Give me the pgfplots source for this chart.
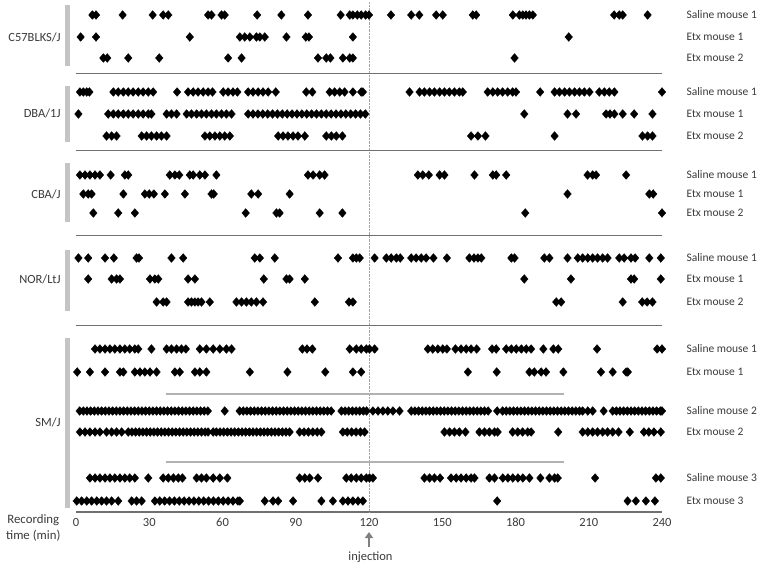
\documentclass[border=0pt]{standalone}
\usepackage{pgfplots}
\pgfplotsset{compat=1.18}
\usepackage{fontspec}
\setmainfont{Carlito}
\usetikzlibrary{arrows.meta}
\definecolor{txt}{HTML}{3A3A3A}
\definecolor{sep}{HTML}{707070}
\definecolor{barg}{HTML}{C4C4C4}
\begin{document}
\begin{tikzpicture}
\useasboundingbox (-76pt,-55pt) rectangle (686pt,512pt);
\begin{axis}[
  scale only axis, width=586pt, height=512pt,
  xmin=0, xmax=240, ymin=0, ymax=512,
  axis x line=bottom, axis y line=none,
  x axis line style={-, draw=sep, line width=1.1pt},
  xtick={0,30,...,240}, ytick=\empty,
  major tick length=0pt,
  tick label style={font=\fontsize{12.5}{12.5}\selectfont, text=txt},
  xticklabel style={yshift=-2.5pt},
  /pgf/number format/assume math mode=true,
  clip=false,
  dia/.style={only marks, mark=diamond*, mark size=4.4pt, black,
    mark options={xscale=1.15, line width=0.3pt}},
]
% injection marker
\draw[densely dotted, gray!70] (axis cs:120,0) -- (axis cs:120,510);
\draw[-{Triangle[width=8pt,length=6pt]}, gray, line width=2pt] (axis cs:120,-35) -- (axis cs:120,-20);
\node[font=\fontsize{12.5}{12.5}\selectfont, text=txt] at (axis cs:120.6,-45) {injection};
\node[font=\fontsize{12.8}{16}\selectfont, text=txt, align=center] at (axis cs:-17.5,-16) {Recording\\time (min)};

% separators
\draw[sep, line width=1pt] (axis cs:0,438) -- (axis cs:240,438);
\draw[sep, line width=1pt] (axis cs:0,361) -- (axis cs:240,361);
\draw[sep, line width=1pt] (axis cs:0,276) -- (axis cs:240,276);
\draw[sep, line width=1pt] (axis cs:0,186) -- (axis cs:240,186);
\draw[gray!60, line width=1.4pt] (axis cs:37,118) -- (axis cs:200,118);
\draw[gray!60, line width=1.4pt] (axis cs:37,50) -- (axis cs:200,50);

% group bars and labels
\draw[barg, line width=5pt] (axis cs:-3.3,507) -- (axis cs:-3.3,446);
\draw[barg, line width=5pt] (axis cs:-3.3,426) -- (axis cs:-3.3,370);
\draw[barg, line width=5pt] (axis cs:-3.3,349) -- (axis cs:-3.3,290);
\draw[barg, line width=5pt] (axis cs:-3.3,262) -- (axis cs:-3.3,201);
\draw[barg, line width=5pt] (axis cs:-3.3,174) -- (axis cs:-3.3,4);
\begin{scope}[every node/.style={anchor=east, font=\fontsize{12.5}{12.5}\selectfont, text=txt}]
\node at (axis cs:-4.9,475) {C57BLKS/J};
\node at (axis cs:-4.9,399) {DBA/1J};
\node at (axis cs:-4.9,318) {CBA/J};
\node at (axis cs:-4.9,233) {NOR/LtJ};
\node at (axis cs:-4.9,90) {SM/J};
\end{scope}
\begin{scope}[every node/.style={anchor=west, font=\fontsize{11.5}{12}\selectfont, text=txt}]
\node at (axis cs:248.6,497) {Saline mouse 1};
\node at (axis cs:248.6,475) {Etx mouse 1};
\node at (axis cs:248.6,454) {Etx mouse 2};
\node at (axis cs:248.6,420) {Saline mouse 1};
\node at (axis cs:248.6,398) {Etx mouse 1};
\node at (axis cs:248.6,376) {Etx mouse 2};
\node at (axis cs:248.6,337) {Saline mouse 1};
\node at (axis cs:248.6,318) {Etx mouse 1};
\node at (axis cs:248.6,299) {Etx mouse 2};
\node at (axis cs:248.6,254) {Saline mouse 1};
\node at (axis cs:248.6,233) {Etx mouse 1};
\node at (axis cs:248.6,210) {Etx mouse 2};
\node at (axis cs:248.6,163) {Saline mouse 1};
\node at (axis cs:248.6,140) {Etx mouse 1};
\node at (axis cs:248.6,101) {Saline mouse 2};
\node at (axis cs:248.6,80) {Etx mouse 2};
\node at (axis cs:248.6,34) {Saline mouse 3};
\node at (axis cs:248.6,11) {Etx mouse 3};
\end{scope}

% C57BLKS/J
\addplot[dia] coordinates {(6.7,497)(8.2,497)(19.1,497)(31.4,497)(35.7,497)(37.8,497)(54.1,497)(55.5,497)(59.6,497)(60.9,497)(74.2,497)(84.1,497)(95.0,497)(108.4,497)(112.1,497)(113.4,497)(115.2,497)(116.8,497)(118.6,497)(120.0,497)(129.0,497)(137.3,497)(140.6,497)(147.5,497)(150.2,497)(162.5,497)(163.9,497)(178.9,497)(181.6,497)(183.0,497)(184.3,497)(185.7,497)(187.1,497)(220.4,497)(222.5,497)(223.9,497)(234.1,497)};
\addplot[dia] coordinates {(1.9,475)(8.2,475)(46.6,475)(67.1,475)(69.1,475)(71.2,475)(73.9,475)(75.3,475)(77.3,475)(86.2,475)(94.1,475)(95.4,475)(113.4,475)(201.8,475)};
\addplot[dia] coordinates {(11.2,454)(12.8,454)(21.4,454)(34.1,454)(62.3,454)(67.8,454)(99.1,454)(102.5,454)(104.2,454)(109.3,454)(112.1,454)(113.4,454)(179.6,454)};

% DBA/1J
\addplot[dia] coordinates {(1.6,420)(3.0,420)(4.4,420)(5.5,420)(15.3,420)(17.3,420)(19.4,420)(21.4,420)(23.4,420)(25.5,420)(27.5,420)(29.6,420)(31.6,420)(41.4,420)(45.9,420)(48.0,420)(50.0,420)(52.1,420)(54.1,420)(55.9,420)(60.3,420)(62.3,420)(64.3,420)(66.1,420)(70.5,420)(72.5,420)(74.6,420)(76.6,420)(78.7,420)(81.8,420)(94.3,420)(96.8,420)(103.9,420)(105.9,420)(108.0,420)(110.0,420)(113.4,420)(116.8,420)(117.5,420)(136.6,420)(140.7,420)(142.7,420)(144.8,420)(146.8,420)(148.9,420)(150.9,420)(152.9,420)(155.0,420)(157.0,420)(158.4,420)(168.6,420)(170.7,420)(172.7,420)(174.7,420)(176.8,420)(178.8,420)(180.2,420)(190.1,420)(196.0,420)(198.0,420)(200.1,420)(202.1,420)(204.2,420)(206.2,420)(208.2,420)(210.3,420)(214.3,420)(216.4,420)(218.4,420)(220.5,420)(240,420)};
\addplot[dia] coordinates {(1.0,398)(13.2,398)(15.3,398)(17.3,398)(19.4,398)(21.4,398)(23.4,398)(25.5,398)(27.5,398)(29.6,398)(30.9,398)(37.1,398)(39.1,398)(41.2,398)(45.3,398)(47.3,398)(49.4,398)(51.4,398)(53.4,398)(55.5,398)(57.5,398)(59.6,398)(61.6,398)(63.7,398)(70.5,398)(72.5,398)(74.5,398)(76.5,398)(78.5,398)(80.5,398)(82.5,398)(84.5,398)(86.5,398)(88.5,398)(90.5,398)(92.5,398)(94.5,398)(96.5,398)(98.5,398)(100.5,398)(102.5,398)(104.5,398)(106.5,398)(108.5,398)(110.5,398)(112.5,398)(114.5,398)(116.5,398)(118.5,398)(183.6,398)(201.3,398)(204.8,398)(217.1,398)(218.7,398)(220.5,398)(223.9,398)(228.6,398)(236.1,398)};
\addplot[dia] coordinates {(12.5,376)(14.6,376)(16.6,376)(26.9,376)(28.9,376)(30.9,376)(33.0,376)(35.0,376)(37.1,376)(52.8,376)(54.8,376)(56.9,376)(58.9,376)(60.9,376)(63.0,376)(82.8,376)(84.8,376)(86.8,376)(88.9,376)(90.9,376)(93.7,376)(102.5,376)(104.6,376)(106.6,376)(109.1,376)(161.8,376)(164.6,376)(167.7,376)(196.0,376)(232.0,376)(234.1,376)(236.1,376)};

% CBA/J
\addplot[dia] coordinates {(1.6,337)(3.7,337)(5.7,337)(7.8,337)(9.8,337)(14.2,337)(20.0,337)(21.4,337)(38.4,337)(40.5,337)(42.3,337)(46.6,337)(48.0,337)(50.7,337)(52.8,337)(57.5,337)(95.0,337)(97.1,337)(99.8,337)(101.8,337)(140.0,337)(142.0,337)(144.5,337)(148.9,337)(150.9,337)(163.2,337)(170.7,337)(172.1,337)(176.2,337)(209.5,337)(211.6,337)(213.0,337)(225.3,337)};
\addplot[dia] coordinates {(3.0,318)(5.0,318)(6.4,318)(19.4,318)(28.2,318)(30.0,318)(31.9,318)(36.4,318)(44.6,318)(55.5,318)(56.4,318)(71.8,318)(74.6,318)(87.5,318)(201.3,318)(234.8,318)(236.4,318)};
\addplot[dia] coordinates {(7.1,299)(17.3,299)(24.1,299)(69.5,299)(82.1,299)(83.4,299)(99.8,299)(109.1,299)(184.0,299)(240,299)};

% NOR/LtJ
\addplot[dia] coordinates {(1.0,254)(5.0,254)(11.9,254)(15.5,254)(24.8,254)(25.8,254)(39.1,254)(43.9,254)(73.2,254)(75.3,254)(81.4,254)(107.3,254)(113.4,254)(114.8,254)(116.2,254)(122.3,254)(127.1,254)(129.1,254)(131.2,254)(132.8,254)(137.3,254)(139.3,254)(141.4,254)(143.4,254)(146.4,254)(151.9,254)(161.1,254)(163.0,254)(164.6,254)(166.0,254)(178.3,254)(179.6,254)(191.8,254)(193.9,254)(201.3,254)(205.5,254)(207.5,254)(209.6,254)(211.6,254)(213.6,254)(215.7,254)(217.7,254)(222.5,254)(224.5,254)(227.3,254)(229.0,254)(234.8,254)(239.5,254)};
\addplot[dia] coordinates {(5.0,233)(14.6,233)(16.6,233)(18.0,233)(30.3,233)(32.3,233)(33.7,233)(45.9,233)(48.7,233)(76.9,233)(86.2,233)(87.5,233)(93.7,233)(183.6,233)(202.7,233)(227.3,233)(228.6,233)(239.5,233)};
\addplot[dia] coordinates {(33.0,210)(35.7,210)(37.1,210)(45.9,210)(47.3,210)(48.7,210)(50.0,210)(51.4,210)(54.8,210)(65.7,210)(67.8,210)(69.8,210)(71.8,210)(73.9,210)(76.6,210)(97.8,210)(111.8,210)(113.4,210)(196.7,210)(198.7,210)(223.9,210)(231.9,210)(233.9,210)(236.1,210)};

% SM/J
\addplot[dia] coordinates {(7.8,163)(9.8,163)(11.9,163)(13.9,163)(15.9,163)(18.0,163)(20.0,163)(22.0,163)(24.1,163)(25.5,163)(30.9,163)(37.1,163)(39.1,163)(41.2,163)(43.2,163)(45.0,163)(50.7,163)(53.4,163)(56.2,163)(58.9,163)(61.6,163)(63.7,163)(92.7,163)(94.6,163)(96.8,163)(112.1,163)(114.8,163)(116.8,163)(118.9,163)(120.2,163)(122.3,163)(144.1,163)(146.1,163)(148.2,163)(150.2,163)(151.9,163)(155.4,163)(157.7,163)(159.8,163)(161.8,163)(164.1,163)(170.4,163)(172.1,163)(176.2,163)(178.3,163)(180.3,163)(182.4,163)(184.4,163)(186.4,163)(191.4,163)(195.5,163)(197.5,163)(213.4,163)(238.0,163)(240,163)};
\addplot[dia] coordinates {(0.5,140)(5.7,140)(11.9,140)(18.0,140)(19.4,140)(24.1,140)(26.2,140)(28.2,140)(30.3,140)(33.0,140)(40.5,140)(42.5,140)(48.7,140)(50.7,140)(53.4,140)(71.2,140)(86.6,140)(102.1,140)(113.4,140)(116.8,140)(160.5,140)(172.3,140)(185.7,140)(187.7,140)(190.5,140)(192.5,140)(199.6,140)(215.0,140)(219.8,140)(225.3,140)(226.0,140)};
\addplot[dia] coordinates {(1.5,101)(3,101)(4.5,101)(6,101)(7.5,101)(9,101)(10.5,101)(12,101)(13.5,101)(15,101)(16.5,101)(18,101)(19.5,101)(21,101)(22.5,101)(24,101)(25.5,101)(27,101)(28.5,101)(30,101)(31.5,101)(33,101)(34.5,101)(36,101)(37.5,101)(39,101)(40.5,101)(42,101)(43.5,101)(45,101)(46.5,101)(48,101)(49.5,101)(51,101)(52.5,101)(54,101)(60.9,101)(67,101)(68.5,101)(70,101)(71.5,101)(73,101)(74.5,101)(76,101)(77.5,101)(79,101)(80.5,101)(82,101)(83.5,101)(85,101)(86.5,101)(88,101)(89.5,101)(91,101)(92.5,101)(94,101)(95.5,101)(97,101)(98.5,101)(100,101)(101.5,101)(103,101)(104.5,101)(108.7,101)(110.2,101)(111.7,101)(113.2,101)(114.7,101)(116.2,101)(117.7,101)(119,101)(121.6,101)(123.7,101)(125.7,101)(127.7,101)(129.8,101)(132.5,101)(137.3,101)(138.8,101)(140.3,101)(141.8,101)(143.3,101)(144.8,101)(146.3,101)(147.8,101)(149.3,101)(150.8,101)(152.3,101)(153.8,101)(155.3,101)(156.8,101)(158.3,101)(159.8,101)(161.3,101)(162.8,101)(164.3,101)(165.8,101)(167.3,101)(168.8,101)(172.5,101)(174.7,101)(176.2,101)(177.7,101)(179.2,101)(180.7,101)(182.2,101)(183.7,101)(185.2,101)(186.7,101)(188.2,101)(189.7,101)(191.2,101)(192.7,101)(194.2,101)(195.7,101)(197.2,101)(198.7,101)(200.2,101)(201.7,101)(203.2,101)(204.7,101)(206.2,101)(207.5,101)(209.6,101)(211.6,101)(216.1,101)(219.8,101)(221.3,101)(222.8,101)(224.3,101)(225.8,101)(227.3,101)(228.8,101)(230.3,101)(231.8,101)(233.3,101)(234.8,101)(236.3,101)(237.8,101)(239.3,101)(240,101)};
\addplot[dia] coordinates {(1.6,80)(3.7,80)(5.7,80)(7.8,80)(9.8,80)(12.5,80)(14.6,80)(16.6,80)(18.7,80)(21.4,80)(22.9,80)(24.4,80)(25.9,80)(27.4,80)(28.9,80)(30.4,80)(31.9,80)(33.4,80)(34.9,80)(36.4,80)(37.9,80)(39.4,80)(40.9,80)(42.4,80)(43.9,80)(45.4,80)(46.9,80)(48.4,80)(49.9,80)(51.4,80)(52.9,80)(54.1,80)(56.2,80)(57.5,80)(59,80)(60.5,80)(62,80)(63.5,80)(65,80)(66.5,80)(68,80)(69.5,80)(71,80)(72.5,80)(74,80)(75.5,80)(77,80)(78.5,80)(80,80)(81.5,80)(83,80)(84.5,80)(86,80)(87.5,80)(91.6,80)(93.4,80)(95.2,80)(97,80)(98.8,80)(100.5,80)(109.3,80)(111.1,80)(112.9,80)(114.7,80)(116.5,80)(118.2,80)(150.9,80)(153.0,80)(155.0,80)(157.0,80)(159.5,80)(165.2,80)(167.3,80)(169.3,80)(171.4,80)(172.7,80)(178.8,80)(180.9,80)(182.9,80)(185.0,80)(186.4,80)(197.5,80)(207.5,80)(209.6,80)(211.6,80)(213.6,80)(215.7,80)(217.7,80)(219.8,80)(222.2,80)(226.8,80)(232.6,80)(234.6,80)(236.7,80)(239.5,80)};
\addplot[dia] coordinates {(5.7,34)(7.8,34)(9.8,34)(11.9,34)(13.9,34)(15.9,34)(18.0,34)(20.0,34)(22.0,34)(24.1,34)(29.6,34)(35.7,34)(37.8,34)(39.9,34)(41.9,34)(43.6,34)(49.4,34)(51.4,34)(53.4,34)(56.2,34)(58.9,34)(62.0,34)(91.6,34)(93.7,34)(95.7,34)(99.1,34)(110.7,34)(112.7,34)(114.8,34)(116.8,34)(118.9,34)(120.2,34)(121.6,34)(142.7,34)(144.8,34)(146.8,34)(149.1,34)(153.6,34)(155.7,34)(157.7,34)(159.8,34)(161.8,34)(163.2,34)(169.3,34)(171.4,34)(174.8,34)(176.9,34)(178.9,34)(181.0,34)(183.0,34)(185.7,34)(190.2,34)(193.9,34)(196.0,34)(197.3,34)(212.6,34)(237.5,34)(239.5,34)};
\addplot[dia] coordinates {(0.3,11)(2.3,11)(4.4,11)(6.4,11)(8.5,11)(10.5,11)(12.5,11)(14.6,11)(17.3,11)(22.8,11)(24.8,11)(26.9,11)(32.3,11)(34.3,11)(36.3,11)(38.3,11)(40.3,11)(42.3,11)(44.3,11)(46.3,11)(48.3,11)(50.3,11)(52.3,11)(54.3,11)(56.3,11)(58.3,11)(60.3,11)(62.3,11)(64.3,11)(66.3,11)(67.1,11)(77.3,11)(80.7,11)(82.8,11)(88.9,11)(100.5,11)(105.2,11)(109.3,11)(111.4,11)(113.4,11)(115.5,11)(117.5,11)(172.5,11)(225.9,11)(229.3,11)(233.4,11)(237.1,11)};
\end{axis}
\end{tikzpicture}
\end{document}
